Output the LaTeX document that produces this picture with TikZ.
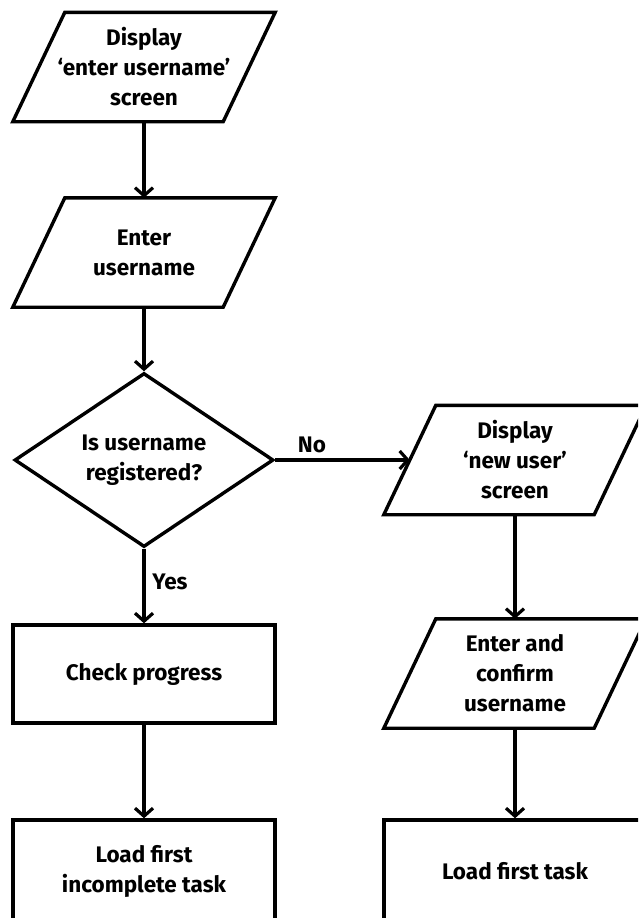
\documentclass[tikz,border=0pt]{standalone}
\usepackage{fontspec}
\setmainfont{Fira Sans}
\usetikzlibrary{shapes.geometric,arrows.meta}
\newcommand\ioshape[1]{\draw[stroke] ([xshift=-26pt]#1.south west) -- ([xshift=26pt]#1.north west) -- ([xshift=26pt]#1.north east) -- ([xshift=-26pt]#1.south east) -- cycle;}
\begin{document}
\begin{tikzpicture}[x=1pt,y=-1pt,
  every node/.style={font=\fontsize{22.5}{30}\selectfont\bfseries, align=center, inner sep=0pt, text=black},
  stroke/.style={line width=3.4pt, line join=miter},
  io/.style={rectangle, minimum width=210pt, minimum height=109pt},
  proc/.style={draw, stroke, rectangle, minimum width=262pt, minimum height=98pt},
  procb/.style={draw, stroke, rectangle, minimum width=262pt, minimum height=102pt},
  dec/.style={draw, stroke, diamond, aspect=1.5, minimum width=259pt, minimum height=174pt},
  conn/.style={line width=3.2pt, -{Straight Barb[length=8pt,width=18pt]}},
  lbl/.style={}
]
\useasboundingbox (0,0) rectangle (638,918);
\clip (0,0) rectangle (638,918);
\fill[white] (0,0) rectangle (638,918);

\node[io] (p1) at (144,67) {Display\\‘enter username’\\screen};
\node[io] (p2) at (144,252.5) {Enter\\username};
\node[dec] (d) at (144,460) {Is username\\registered?};
\node[proc] (r1) at (144,674) {Check progress};
\node[procb] (r2) at (144,871) {Load first\\incomplete task};
\node[io] (p3) at (515,460) {Display\\‘new user’\\screen};
\node[io] (p4) at (515,673.5) {Enter and\\confirm\\username};
\node[procb] (r3) at (515,871) {Load first task};

\ioshape{p1}
\ioshape{p2}
\ioshape{p3}
\ioshape{p4}

\draw[conn] (p1) -- (p2);
\draw[conn] (p2) -- (d);
\draw[conn] (d) -- (r1);
\draw[conn] (r1) -- (r2);
\draw[conn] (d) -- (p3);
\draw[conn] (p3) -- (p4);
\draw[conn] (p4) -- (r3);

\node[lbl] (no) at (312,445) {No};
\node[lbl] (yes) at (170,582) {Yes};
\end{tikzpicture}
\end{document}
